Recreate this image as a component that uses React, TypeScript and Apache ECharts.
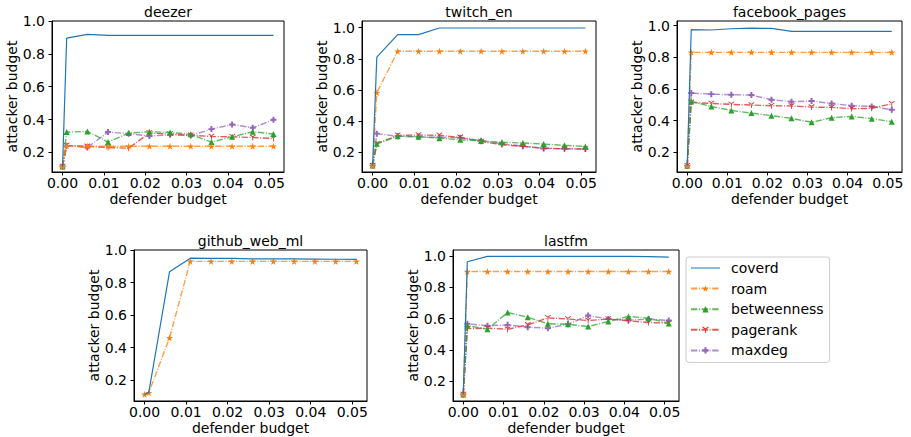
import React, { useEffect, useRef } from "react";
import * as echarts from "echarts";

const xs = [0, 0.001, 0.006, 0.011, 0.016, 0.021, 0.026, 0.031, 0.036, 0.041, 0.046, 0.051];
const xTicks = [0, 0.01, 0.02, 0.03, 0.04, 0.05];
const yTicks = [0.2, 0.4, 0.6, 0.8, 1.0];
const seriesNames = ["coverd", "roam", "betweenness", "pagerank", "maxdeg"];
const titles = ["deezer", "twitch_en", "facebook_pages", "github_web_ml", "lastfm"];

const deezerCoverd = [0.115, 0.896, 0.919, 0.913, 0.913, 0.913, 0.913, 0.913, 0.913, 0.913, 0.913, 0.913];
const deezerRoam = [0.115, 0.24, 0.238, 0.238, 0.238, 0.238, 0.238, 0.238, 0.238, 0.238, 0.238, 0.238];
const deezerBetweenness = [0.115, 0.324, 0.328, 0.263, 0.318, 0.326, 0.322, 0.31, 0.263, 0.295, 0.326, 0.312];
const deezerPagerank = [0.115, 0.243, 0.237, 0.23, 0.226, 0.318, 0.312, 0.305, 0.297, 0.295, 0.291, 0.285];
const deezerMaxdeg = [0.115, 0.24, 0.23, 0.324, 0.314, 0.3, 0.307, 0.303, 0.342, 0.37, 0.35, 0.399];

const twitchCoverd = [0.115, 0.811, 0.955, 0.955, 0.997, 0.997, 0.997, 0.997, 0.997, 0.997, 0.997, 0.997];
const twitchRoam = [0.115, 0.582, 0.848, 0.848, 0.848, 0.848, 0.848, 0.848, 0.848, 0.848, 0.848, 0.848];
const twitchBetweenness = [0.115, 0.255, 0.303, 0.3, 0.29, 0.281, 0.273, 0.264, 0.26, 0.253, 0.245, 0.238];
const twitchPagerank = [0.115, 0.255, 0.309, 0.311, 0.309, 0.296, 0.27, 0.249, 0.238, 0.227, 0.223, 0.221];
const twitchMaxdeg = [0.115, 0.32, 0.303, 0.3, 0.296, 0.294, 0.275, 0.255, 0.24, 0.225, 0.223, 0.221];

const facebookCoverd = [0.115, 0.975, 0.973, 0.981, 0.985, 0.983, 0.964, 0.964, 0.964, 0.964, 0.964, 0.964];
const facebookRoam = [0.115, 0.832, 0.832, 0.832, 0.832, 0.832, 0.832, 0.832, 0.832, 0.832, 0.832, 0.832];
const facebookBetweenness = [0.115, 0.522, 0.49, 0.465, 0.448, 0.432, 0.415, 0.39, 0.419, 0.427, 0.413, 0.394];
const facebookPagerank = [0.115, 0.516, 0.509, 0.503, 0.499, 0.495, 0.493, 0.486, 0.484, 0.476, 0.478, 0.507];
const facebookMaxdeg = [0.115, 0.575, 0.568, 0.564, 0.562, 0.533, 0.52, 0.524, 0.509, 0.495, 0.49, 0.469];

const githubCoverd = [0.113, 0.124, 0.866, 0.95, 0.948, 0.948, 0.946, 0.946, 0.945, 0.944, 0.943, 0.942];
const githubRoam = [0.113, 0.122, 0.46, 0.93, 0.93, 0.93, 0.93, 0.93, 0.93, 0.93, 0.93, 0.93];

const lastfmCoverd = [0.115, 0.964, 0.998, 0.998, 0.998, 0.998, 0.998, 0.998, 0.998, 0.998, 0.997, 0.994];
const lastfmRoam = [0.115, 0.901, 0.901, 0.901, 0.901, 0.901, 0.901, 0.901, 0.901, 0.901, 0.901, 0.901];
const lastfmBetweenness = [0.115, 0.556, 0.532, 0.639, 0.609, 0.567, 0.564, 0.549, 0.582, 0.614, 0.603, 0.569];
const lastfmPagerank = [0.115, 0.536, 0.539, 0.532, 0.56, 0.605, 0.597, 0.588, 0.597, 0.586, 0.575, 0.571];
const lastfmMaxdeg = [0.115, 0.567, 0.554, 0.56, 0.545, 0.539, 0.564, 0.62, 0.597, 0.59, 0.597, 0.588];

const panels: (number[] | null)[][] = [
  [deezerCoverd, deezerRoam, deezerBetweenness, deezerPagerank, deezerMaxdeg],
  [twitchCoverd, twitchRoam, twitchBetweenness, twitchPagerank, twitchMaxdeg],
  [facebookCoverd, facebookRoam, facebookBetweenness, facebookPagerank, facebookMaxdeg],
  [githubCoverd, githubRoam, null, null, null],
  [lastfmCoverd, lastfmRoam, lastfmBetweenness, lastfmPagerank, lastfmMaxdeg],
];

const yMins = [0.081, 0.074, 0.076, 0.072, 0.073];
const yMaxs = [1.0, 1.042, 1.03, 1.0, 1.039];

const grids = [
  { left: 52, top: 21, width: 232, height: 151 },
  { left: 362, top: 21, width: 234, height: 151 },
  { left: 677, top: 21, width: 225, height: 151 },
  { left: 134, top: 250, width: 233, height: 151 },
  { left: 453, top: 250, width: 226, height: 151 },
];

const colors = ["#1f77b4", "#ff7f0e", "#2ca02c", "#d62728", "#9467bd"];
const STAR = "path://M0,-1 L0.2245,-0.309 L0.951,-0.309 L0.3633,0.118 L0.5878,0.809 L0,0.382 L-0.5878,0.809 L-0.3633,0.118 L-0.951,-0.309 L-0.2245,-0.309 Z";
const TRI_DOWN = "path://M-0.12,0 L-0.12,1 L0.12,1 L0.12,0 Z M0.06,-0.104 L-0.806,-0.604 L-0.926,-0.396 L-0.06,0.104 Z M-0.06,-0.104 L0.806,-0.604 L0.926,-0.396 L0.06,0.104 Z";
const PLUS = "path://M-0.33,-1 L0.33,-1 L0.33,-0.33 L1,-0.33 L1,0.33 L0.33,0.33 L0.33,1 L-0.33,1 L-0.33,0.33 L-1,0.33 L-1,-0.33 L-0.33,-0.33 Z";
const LINE_ICON = "path://M0,0 L0.01,0 L0.01,0.01 L0,0.01 Z M0,3.4 L29,3.4 L29,4.6 L0,4.6 Z M28.99,7.99 L29,7.99 L29,8 L28.99,8 Z";
const symbols = ["none", STAR, "triangle", TRI_DOWN, PLUS];
const symbolSizes = [0, 7, 6, 6, 6];

const FONT = "DejaVu Sans";

export default function App() {
  const ref = useRef<HTMLDivElement>(null);
  useEffect(() => {
    if (!ref.current) return;
    const chart = echarts.init(ref.current, null, { renderer: "svg" });
    const series: any[] = [];
    panels.forEach((panel, pi) => {
      panel.forEach((vals, si) => {
        if (!vals) return;
        const isCov = si === 0;
        series.push({
          type: "line",
          name: seriesNames[si],
          xAxisIndex: pi,
          yAxisIndex: pi,
          data: xs.map((x, i) => [x, vals[i]]),
          showSymbol: !isCov,
          symbol: symbols[si],
          symbolSize: symbolSizes[si],
          color: colors[si],
          itemStyle: { color: colors[si] },
          lineStyle: isCov
            ? { color: colors[si], width: 1.2, type: "solid" }
            : { color: colors[si], width: 1.4, type: [6.4, 1.6, 1, 1.6], opacity: 0.75 },
          emphasis: { disabled: true },
          z: 10 - si,
        });
      });
    });
    const option: any = {
      animation: false,
      textStyle: { fontFamily: FONT },
      title: titles.map((t, i) => ({
        text: t,
        left: grids[i].left + grids[i].width / 2,
        textAlign: "center",
        top: grids[i].top - 16,
        padding: 0,
        textStyle: { fontFamily: FONT, fontSize: 14, fontWeight: "normal", color: "#000" },
      })),
      legend: {
        orient: "vertical",
        left: 686,
        top: 257,
        width: 141,
        padding: [4, 6, 5, 4],
        itemWidth: 29,
        itemHeight: 8,
        itemGap: 6.6,
        backgroundColor: "#fff",
        borderColor: "#cccccc",
        borderWidth: 1,
        borderRadius: 3,
        data: seriesNames.map((n, i) => (i === 0 ? { name: n, icon: LINE_ICON } : { name: n })),
        textStyle: { fontFamily: FONT, fontSize: 14, color: "#000", padding: [0, 0, 0, 6] },
      },
      grid: grids.map((g) => ({
        ...g,
        show: true,
        borderColor: "#000",
        borderWidth: 1,
        backgroundColor: "transparent",
        containLabel: false,
      })),
      xAxis: grids.map((g, i) => ({
        type: "value",
        gridIndex: i,
        min: -0.00255,
        max: 0.05355,
        name: "defender budget",
        nameLocation: "middle",
        nameGap: 20,
        nameTextStyle: { fontFamily: FONT, fontSize: 14, color: "#000" },
        axisLine: { show: true, onZero: false, lineStyle: { color: "#000", width: 1 } },
        axisTick: { show: true, inside: false, length: 3.5, lineStyle: { color: "#000" }, customValues: xTicks },
        axisLabel: {
          show: true,
          margin: 4,
          fontFamily: FONT,
          fontSize: 14,
          color: "#000",
          customValues: xTicks,
          formatter: (v: number) => v.toFixed(2),
        },
        splitLine: { show: false },
      })),
      yAxis: grids.map((g, i) => ({
        type: "value",
        gridIndex: i,
        min: yMins[i],
        max: yMaxs[i],
        name: "attacker budget",
        nameLocation: "middle",
        nameGap: 32,
        nameRotate: 90,
        nameTextStyle: { fontFamily: FONT, fontSize: 14, color: "#000" },
        axisLine: { show: true, onZero: false, lineStyle: { color: "#000", width: 1 } },
        axisTick: { show: true, inside: false, length: 3.5, lineStyle: { color: "#000" }, customValues: yTicks },
        axisLabel: {
          show: true,
          margin: 7,
          fontFamily: FONT,
          fontSize: 14,
          color: "#000",
          customValues: yTicks,
          formatter: (v: number) => v.toFixed(1),
        },
        splitLine: { show: false },
      })),
      series,
    };
    chart.setOption(option);
    return () => chart.dispose();
  }, []);
  return (
    <div
      ref={ref}
      style={{ position: "fixed", left: 0, top: 0, width: 911, height: 437, background: "#fff" }}
    />
  );
}
